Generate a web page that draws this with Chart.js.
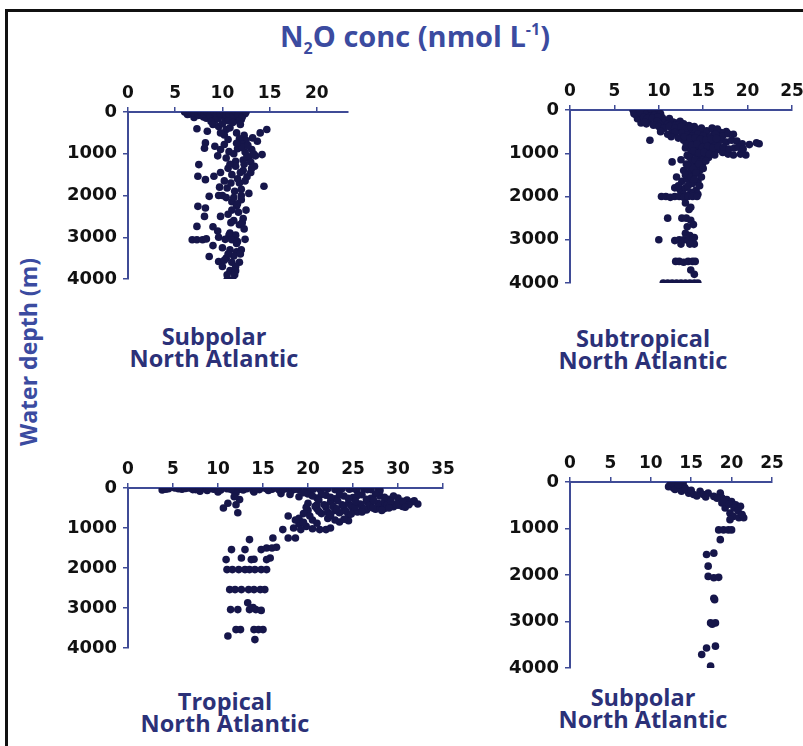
<!DOCTYPE html>
<html>
<head>
<meta charset="utf-8">
<script src="https://cdn.jsdelivr.net/npm/chart.js@4/dist/chart.umd.min.js"></script>
<style>
  html, body { margin: 0; padding: 0; background: #fff; }
  #stage { position: relative; width: 803px; height: 746px; overflow: hidden; background: #fff; }
  #frame { position: absolute; left: 5px; top: 9px; width: 830px; height: 780px; border: 3px solid #111; box-sizing: border-box; }
  canvas { position: absolute; }
  .txt { position: absolute; font-family: "Open Sans", Lato, sans-serif; font-weight: 700; white-space: nowrap; }
  #title { left: 415px; top: 17px; transform: translateX(-50%); font-size: 29px; line-height: 38px; color: #3B4BA0; }
  #title sub { font-size: 16px; vertical-align: -7px; line-height: 0; }
  #title sup { font-size: 16px; vertical-align: 12px; line-height: 0; }
  #ytitle { left: 28px; top: 352px; transform: translate(-50%, -50%) rotate(-90deg); font-size: 23px; color: #3B4BA0; }
  .lab { text-align: center; transform: translateX(-50%); font-size: 23.5px; line-height: 22px; color: #2B3178; }
</style>
</head>
<body>
<div id="stage">
  <div id="frame"></div>
  <div id="title" class="txt">N<sub>2</sub>O conc (nmol L<sup>-1</sup>)</div>
  <div id="ytitle" class="txt">Water depth (m)</div>
  <div class="txt lab" style="left:214px; top:325px;">Subpolar<br>North Atlantic</div>
  <div class="txt lab" style="left:643px; top:327px;">Subtropical<br>North Atlantic</div>
  <div class="txt lab" style="left:225px; top:690px;">Tropical<br>North Atlantic</div>
  <div class="txt lab" style="left:643px; top:686px;">Subpolar<br>North Atlantic</div>
  <canvas id="c1"></canvas>
  <canvas id="c2"></canvas>
  <canvas id="c3"></canvas>
  <canvas id="c4"></canvas>
</div>
<script>
// ---------- Data (N2O concentration, nmol/L vs water depth, m) ----------
const xTicksStep = 5;
const depthTicks = [0, 1000, 2000, 3000, 4000];

// Panel 1: Subpolar North Atlantic (top left)
const subpolarAConc = [
  6.0,6.5,6.8,7.2,7.5,7.8,8.0,8.2,8.5,8.8,9.0,9.3,9.6,9.9,10.2,10.5,10.8,11.0,11.3,11.6,11.9,12.2,12.4,7.0,8.3,9.5,10.0,11.2,12.0,6.3,
  6.2,6.6,7.0,7.4,7.7,8.1,8.4,8.7,9.1,9.4,9.8,10.1,10.4,10.7,11.1,11.4,11.7,12.1,12.5,9.2,10.6,11.8,8.8,
  7.3,8.4,9.0,9.6,10.0,10.4,10.8,11.1,11.5,11.9,12.3,10.2,9.8,14.7,14.0,13.7,13.2,12.5,11.8,10.6,
  8.2,8.1,9.2,9.8,10.2,10.7,11.2,11.6,12.0,12.4,12.8,13.1,13.5,12.2,11.4,10.4,9.5,14.2,13.0,12.1,11.5,12.7,13.3,12.6,
  7.5,7.4,8.2,9.1,9.8,10.2,10.6,11.0,11.4,11.8,12.2,12.6,13.0,13.4,14.4,12.0,11.3,10.5,9.7,12.8,10.8,11.6,12.3,11.9,10.9,13.1,12.4,
  8.6,9.6,10.0,10.4,11.0,11.5,12.0,12.5,7.4,8.2,8.1,9.8,10.6,11.2,11.8,12.3,7.3,9.0,9.5,10.8,11.4,12.0,11.2,11.7,12.2,10.9,11.6,12.1,11.0,10.7,
  6.8,7.3,7.9,8.3,9.6,10.3,11.0,11.6,12.4,9.0,10.0,10.8,11.5,8.6,9.6,10.4,11.2,11.8,10.0,10.8,11.4,10.5,11.1,11.5,12.0,10.6,11.0,11.4,11.9,10.2,10.5,11.3
];
const subpolarADepth = [
  0,50,20,0,80,20,120,0,60,10,100,30,0,70,130,20,90,0,50,10,100,0,40,130,150,160,40,160,180,60,
  10,0,30,40,0,50,20,80,0,60,30,0,80,40,110,0,60,120,0,200,210,230,230,
  400,460,300,350,280,420,380,250,500,300,560,550,500,420,500,700,620,680,640,660,
  740,870,820,900,780,950,1000,880,760,960,1100,900,1050,1150,1180,1100,1050,1020,1200,850,750,800,1000,1050,
  1260,1540,1620,1540,1450,1650,1350,1500,1300,1700,1400,1550,1450,1300,1780,1850,1900,1820,1800,1950,1250,1600,1250,1450,1700,1350,1650,
  2020,2000,2000,2050,2150,2250,2100,2350,2260,2300,2500,2500,2450,2600,2700,2800,2740,2750,2850,2900,2950,2000,2050,2400,2550,2650,2200,2650,2350,2950,
  3060,3060,3060,3040,3000,3050,3060,3100,3050,3200,3250,3300,3350,3460,3580,3500,3450,3600,3700,3800,3800,4020,4020,3150,3300,3400,3600,3700,3400,3550,3900,3900
];

// Panel 2: Subtropical North Atlantic (top right)
const subtropicalConc = [
  7.1,7.5,8.0,8.4,8.8,9.2,9.6,10.0,7.2,7.8,8.5,9.0,9.5,10.2,7.6,8.2,8.9,9.7,10.4,10.8,11.2,11.6,12.0,12.4,8.0,8.6,
  7.3,7.9,8.3,8.7,9.3,9.9,10.6,11.0,11.4,11.8,12.2,12.8,13.4,14.0,10.3,11.5,12.1,12.9,13.5,14.1,14.7,15.3,16.2,17.0,17.6,9.8,8.4,10.1,
  9.4,10.0,10.6,11.2,11.8,12.5,13.0,13.6,14.2,14.8,15.4,16.0,16.6,10.2,11.0,11.8,12.6,13.2,13.8,14.4,15.0,15.8,16.4,17.2,17.8,18.4,9.0,11.4,
  12.8,13.4,14.0,14.6,15.2,15.8,16.4,17.0,17.6,18.2,18.8,19.4,20.2,21.0,21.3,13.0,13.6,14.2,14.8,15.4,16.0,16.6,17.2,17.8,18.4,19.2,19.8,13.2,13.8,14.4,15.0,15.6,
  12.2,12.9,13.5,14.1,14.7,15.3,15.9,16.5,13.1,13.7,14.3,14.9,15.5,16.1,16.7,17.3,17.9,18.5,19.0,19.5,13.9,14.5,15.1,15.7,16.3,
  12.5,13.1,13.7,14.3,14.9,11.5,12.8,13.4,14.0,14.6,12.0,12.6,13.2,13.8,14.4,11.8,12.4,13.0,13.6,14.2,12.2,
  13.5,14.1,14.7,15.3,13.3,13.9,14.5,15.0,13.0,13.6,14.2,14.8,13.3,14.0,14.6,12.8,13.8,14.4,
  10.3,10.8,11.3,11.8,12.3,12.8,13.3,13.8,14.3,13.0,13.6,13.4,
  11.0,12.6,13.1,13.6,13.9,13.2,13.0,13.5,14.0,
  10.0,11.8,12.3,12.8,13.3,13.8,14.0,13.5,12.5,
  11.9,12.3,12.8,13.3,13.8,14.1,13.6,14.0,
  10.5,11.0,11.5,12.0,12.5,13.0,13.5,14.0,14.4
];
const subtropicalDepth = [
  0,30,0,50,10,40,0,20,80,120,100,150,120,90,200,230,260,220,180,250,200,280,300,260,300,320,
  100,60,170,200,180,160,300,330,340,360,340,320,360,380,440,460,480,500,500,520,500,540,500,520,500,260,280,330,
  350,380,420,380,420,380,440,400,460,420,480,420,440,500,560,520,540,580,600,560,600,620,560,600,550,560,700,620,
  700,760,720,800,760,820,760,700,740,700,720,780,800,760,780,880,920,860,940,900,960,920,980,1020,1040,1020,1040,1050,1000,1080,1050,1100,
  650,620,660,640,680,700,680,660,800,820,780,860,840,880,840,860,900,880,860,900,950,1000,980,1020,1040,
  1150,1250,1200,1300,1250,1200,1400,1450,1500,1400,1550,1650,1600,1700,1650,1800,1850,1800,1900,1850,1750,
  1100,1150,1200,1180,1300,1350,1250,1350,1500,1550,1450,1550,1750,1600,1750,1950,1950,1950,
  2000,2000,2020,2000,2000,2020,2000,2000,2000,2150,2250,2300,
  2500,2500,2500,2550,2650,2700,2850,2900,2950,
  3000,3020,3000,3000,3020,3000,3100,3100,3100,
  3500,3500,3520,3500,3500,3500,3700,3800,
  4000,4000,4000,4000,4000,4000,4000,4000,4000
];

// Panel 3: Tropical North Atlantic (bottom left)
const tropicalConc = [
  3.8,4.5,5.2,6.0,6.8,7.5,8.2,8.8,9.5,10.3,11.0,11.7,12.4,13.2,13.9,14.6,15.3,16.0,16.8,17.5,18.2,19.0,19.8,20.6,21.4,22.2,23.0,23.8,24.6,25.4,26.2,27.0,27.8,8.0,10.0,12.0,14.0,17.0,
  4.2,5.6,6.4,7.2,7.9,9.0,10.0,11.4,12.8,14.2,15.6,16.4,17.2,18.6,20.2,21.8,23.4,25.0,26.6,28.0,
  10.6,11.1,12.2,12.4,11.8,12.0,
  18.0,19.0,20.0,21.0,22.0,23.0,24.0,25.0,26.0,27.0,28.0,29.0,30.0,31.0,31.8,32.2,31.0,30.0,29.0,28.0,27.0,26.0,25.0,24.0,23.0,22.0,21.0,20.0,
  19.5,21.5,22.5,23.5,24.5,25.5,26.5,27.5,28.5,29.5,30.5,20.0,21.0,22.5,24.5,26.5,28.5,19.0,19.8,20.5,22.0,22.5,23.5,24.5,21.0,19.2,
  19.5,20.5,21.5,22.5,23.5,24.5,25.5,26.5,27.5,28.5,29.5,30.5,31.5,29.8,28.8,27.8,26.8,25.8,24.8,23.8,22.8,21.8,20.8,19.8,
  21.2,22.2,23.2,24.2,25.2,26.2,27.2,28.2,20.2,19.0,18.6,22.2,23.0,24.0,20.5,21.3,18.4,19.5,
  21.2,23.3,25.3,27.3,29.2,31.2,30.8,29.0,26.0,24.8,22.5,
  17.8,17.2,17.8,16.1,15.4,16.0,16.5,18.6,13.5,11.5,13.0,14.8,15.8,
  10.9,12.6,13.7,14.0,15.4,
  11.0,11.6,12.3,13.0,13.5,14.1,14.8,15.4,
  11.3,11.9,12.6,13.4,14.0,14.7,15.2,
  11.4,12.2,13.5,14.2,14.8,13.3,13.9,
  12.0,12.5,14.0,14.5,15.0,11.1,14.1
];
const tropicalDepth = [
  50,20,0,30,0,40,20,60,30,50,20,60,30,20,60,40,10,30,50,20,60,40,10,30,50,20,40,10,30,50,20,40,10,80,100,120,100,140,
  30,20,10,40,0,10,40,30,50,20,60,0,40,30,60,0,30,10,40,60,
  500,380,620,290,220,420,
  160,220,150,250,180,270,200,240,170,260,200,280,250,300,320,400,380,430,380,460,420,480,540,500,560,480,520,560,
  640,640,700,620,680,600,550,530,510,470,460,380,420,350,380,340,350,900,960,800,1040,1000,850,820,880,1040,
  120,200,160,230,160,260,190,280,150,230,200,330,350,400,420,380,440,400,450,420,460,420,460,480,
  580,600,520,580,480,520,500,560,700,760,800,760,800,780,1020,1040,1000,860,
  300,320,340,310,330,420,480,500,600,650,660,
  700,1040,1250,1250,1500,1500,1480,1250,1290,1540,1540,1540,1750,
  1790,1750,1790,1780,1790,
  2040,2040,2040,2040,2040,2040,2040,2040,
  2540,2540,2540,2540,2540,2540,2540,
  3040,3040,3040,3040,3060,2870,2990,
  3540,3540,3540,3540,3540,3700,3790
];

// Panel 4: Subpolar North Atlantic (bottom right)
const subpolarBConc = [
  12.4,12.8,13.2,13.6,14.0,14.2,13.8,14.7,15.3,16.1,16.5,17.1,17.8,18.6,18.8,19.4,20.0,20.5,21.1,18.8,19.2,19.8,20.2,20.9,21.5,19.8,
  12.2,12.6,13.0,13.4,14.3,15.0,15.7,16.8,18.2,19.0,19.7,20.3,20.8,21.3,
  18.4,19.0,19.6,20.0,18.6,16.9,17.8,17.1,17.1,17.8,18.4,17.8,17.9,17.4,18.0,17.6,16.9,18.0,16.3,17.4
];
const subpolarBDepth = [
  60,130,20,90,20,120,200,240,270,200,270,240,310,240,340,380,420,490,520,450,560,670,740,770,770,810,
  100,30,160,60,150,180,300,320,350,420,480,560,620,700,
  1030,1030,1030,1030,1240,1560,1530,1810,2030,2060,2050,2500,2530,3030,3030,3060,3570,3530,3710,3960
];

// ---------- Drawing ----------
const AXIS = '#3F4B96';
const DOT = '#16164A';

function makePanel(id, x0, x1, y0, y1, xmax, conc, depth) {
  const yW = 80, xH = 45, padR = 22, padB = 22;
  const cv = document.getElementById(id);
  const w = (x1 - x0) + yW + padR, h = (y1 - y0) + xH + padB;
  cv.width = w; cv.height = h;
  cv.style.left = (x0 - yW) + 'px';
  cv.style.top = (y0 - xH) + 'px';
  cv.style.width = w + 'px'; cv.style.height = h + 'px';
  const pts = conc.map((c, i) => ({ x: c, y: depth[i] }));
  new Chart(cv, {
    type: 'scatter',
    data: { datasets: [{ data: pts, backgroundColor: DOT, borderWidth: 0, pointRadius: 3.8, pointHoverRadius: 3.8 }] },
    options: {
      responsive: false, animation: false,
      layout: { padding: { left: 0, top: 0, right: padR, bottom: padB } },
      plugins: { legend: { display: false }, tooltip: { enabled: false } },
      scales: {
        x: {
          type: 'linear', position: 'top', min: 0, max: xmax,
          afterFit: s => { s.height = xH; },
          border: { display: true, color: AXIS, width: 2 },
          grid: { drawOnChartArea: false, drawTicks: true, tickLength: 5, color: AXIS, lineWidth: 1.5 },
          ticks: { stepSize: xTicksStep, includeBounds: false, padding: 3, color: '#111', maxRotation: 0,
                   font: { family: 'DejaVu Sans', weight: 'bold', size: 17 } }
        },
        y: {
          type: 'linear', position: 'left', reverse: true, min: 0, max: 4000,
          afterFit: s => { s.width = yW; },
          afterBuildTicks: s => { s.ticks = depthTicks.map(v => ({ value: v })); },
          border: { display: true, color: AXIS, width: 2 },
          grid: { drawOnChartArea: false, drawTicks: true, tickLength: 5, color: AXIS, lineWidth: 1.5 },
          ticks: { padding: 6, color: '#111', callback: v => String(v),
                   font: { family: 'DejaVu Sans', weight: 'bold', size: 18 } }
        }
      }
    }
  });
}

makePanel('c1', 128, 348, 112, 279, 23.3, subpolarAConc, subpolarADepth);
makePanel('c2', 570, 792, 110, 283, 25, subtropicalConc, subtropicalDepth);
makePanel('c3', 128, 443, 488, 648, 35, tropicalConc, tropicalDepth);
makePanel('c4', 570, 772, 482, 668, 25, subpolarBConc, subpolarBDepth);
</script>
</body>
</html>
